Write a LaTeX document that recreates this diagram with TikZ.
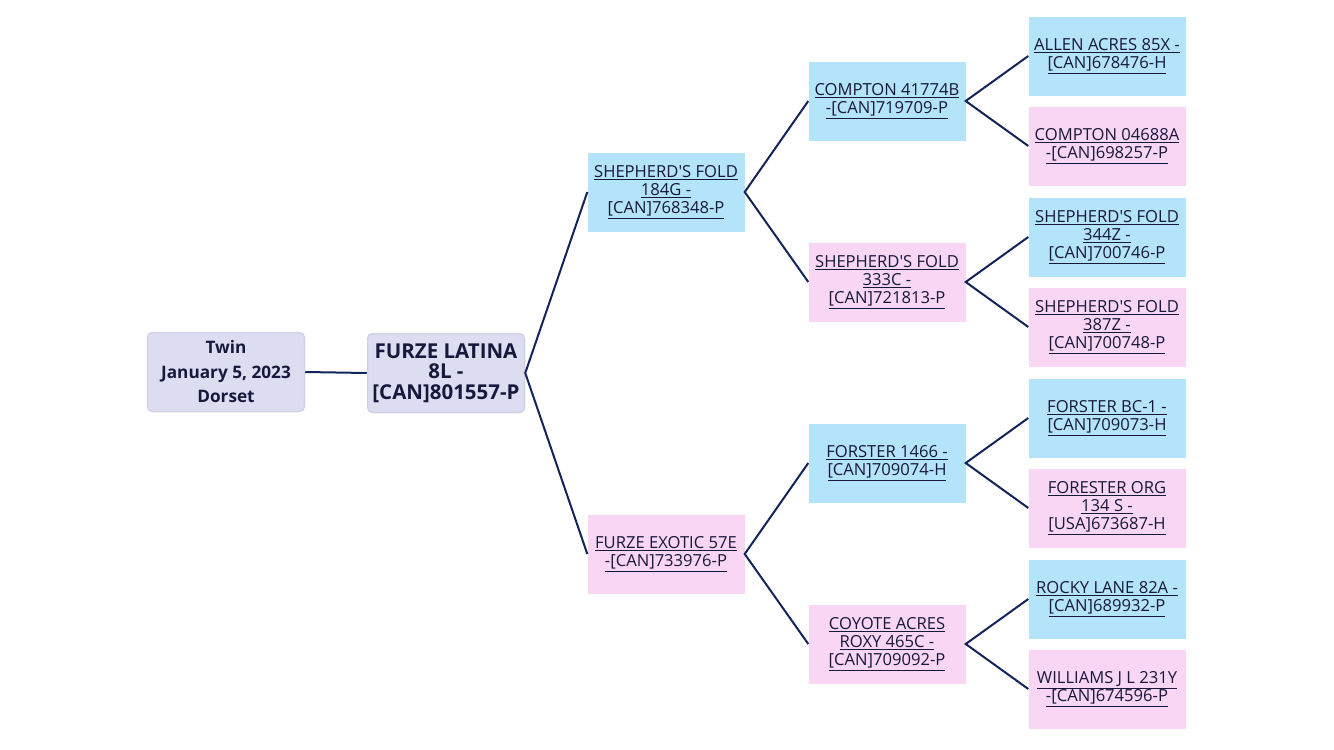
\documentclass[tikz,border=0pt]{standalone}
\usepackage{fontspec}
\setmainfont{Open Sans}
\definecolor{ccbleu}{RGB}{180,228,250}
\definecolor{ccrose}{RGB}{248,214,244}
\definecolor{cclavande}{RGB}{221,221,241}
\definecolor{ccbord}{RGB}{210,210,230}
\definecolor{cctrait}{RGB}{18,36,90}
\definecolor{cctexte}{RGB}{24,24,60}
\newcommand{\ligne}[1]{\underline{#1}}
\newcommand{\apos}{\textquotesingle}

\begin{document}
\begin{tikzpicture}[x=1pt, y=-1pt]

  % Styles des boites
  \tikzstyle{boite} = [rectangle, minimum width=157pt, minimum height=79pt, inner sep=0pt, align=center, text=cctexte, font=\fontsize{16.6}{18}\selectfont]
  \tikzstyle{male} = [boite, fill=ccbleu]
  \tikzstyle{femelle} = [boite, fill=ccrose]
  \tikzstyle{racine} = [boite, fill=cclavande, draw=ccbord, line width=1.5pt, rounded corners=5pt]
  \tikzstyle{lien} = [cctrait, line width=2pt]

  % Boite englobante du schema
  \useasboundingbox (0,0) rectangle (1334,750);

  % Sujet
  \draw (226,372) node[racine, font=\fontsize{17.2}{24.5}\selectfont\bfseries] (info) {Twin\\January 5, 2023\\Dorset};
  \draw (446,373) node[racine, font=\fontsize{20.5}{20.5}\selectfont\bfseries] (sujet) {FURZE LATINA\\8L -\\{[CAN]801557-P}};

  % Parents
  \draw (666,192) node[male] (p) {\ligne{SHEPHERD\apos S FOLD}\\\ligne{184G -}\\\ligne{[CAN]768348-P}};
  \draw (666,554) node[femelle] (m) {\ligne{FURZE EXOTIC 57E}\\\ligne{-[CAN]733976-P}};

  % Grands-parents
  \draw (887,101) node[male] (pp) {\ligne{COMPTON 41774B}\\\ligne{-[CAN]719709-P}};
  \draw (887,282) node[femelle] (pm) {\ligne{SHEPHERD\apos S FOLD}\\\ligne{333C -}\\\ligne{[CAN]721813-P}};
  \draw (887,463) node[male] (mp) {\ligne{FORSTER 1466 -}\\\ligne{[CAN]709074-H}};
  \draw (887,644) node[femelle] (mm) {\ligne{COYOTE ACRES}\\\ligne{ROXY 465C -}\\\ligne{[CAN]709092-P}};

  % Arriere-grands-parents
  \draw (1107,56) node[male] (ppp) {\ligne{ALLEN ACRES 85X -}\\\ligne{[CAN]678476-H}};
  \draw (1107,146) node[femelle] (ppm) {\ligne{COMPTON 04688A}\\\ligne{-[CAN]698257-P}};
  \draw (1107,237) node[male] (pmp) {\ligne{SHEPHERD\apos S FOLD}\\\ligne{344Z -}\\\ligne{[CAN]700746-P}};
  \draw (1107,327) node[femelle] (pmm) {\ligne{SHEPHERD\apos S FOLD}\\\ligne{387Z -}\\\ligne{[CAN]700748-P}};
  \draw (1107,418) node[male] (mpp) {\ligne{FORSTER BC-1 -}\\\ligne{[CAN]709073-H}};
  \draw (1107,508) node[femelle] (mpm) {\ligne{FORESTER ORG}\\\ligne{134 S -}\\\ligne{[USA]673687-H}};
  \draw (1107,599) node[male] (mmp) {\ligne{ROCKY LANE 82A -}\\\ligne{[CAN]689932-P}};
  \draw (1107,689) node[femelle] (mmm) {\ligne{WILLIAMS J L 231Y}\\\ligne{-[CAN]674596-P}};

  % Liens
  \draw[lien] (info.east) -- (sujet.west);
  \draw[lien] (p.west) -- (sujet.east) -- (m.west);
  \draw[lien] (pp.west) -- (p.east) -- (pm.west);
  \draw[lien] (mp.west) -- (m.east) -- (mm.west);
  \draw[lien] (ppp.west) -- (pp.east) -- (ppm.west);
  \draw[lien] (pmp.west) -- (pm.east) -- (pmm.west);
  \draw[lien] (mpp.west) -- (mp.east) -- (mpm.west);
  \draw[lien] (mmp.west) -- (mm.east) -- (mmm.west);

\end{tikzpicture}
\end{document}
